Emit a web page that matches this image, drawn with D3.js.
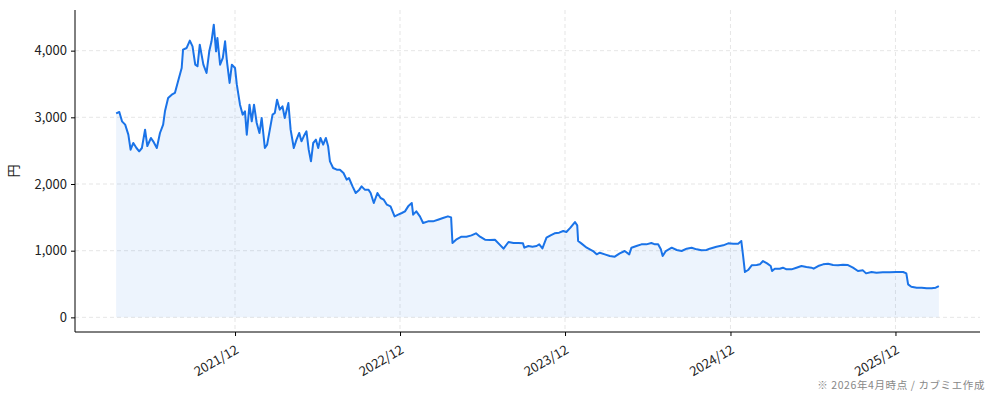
<!DOCTYPE html>
<html>
<head>
<meta charset="utf-8">
<script src="https://d3js.org/d3.v7.min.js"></script>
<style>
  body { margin: 0; background: #fff; }
  svg text { font-family: "Noto Sans CJK JP", "Noto Sans", sans-serif; }
</style>
</head>
<body>
<div id="chart"></div>
<script>
// stock price (円)
const dates = [
  "2021-03-13","2021-03-20","2021-03-26","2021-04-02","2021-04-09","2021-04-14","2021-04-20","2021-04-27",
  "2021-05-03","2021-05-09","2021-05-16","2021-05-21","2021-05-29","2021-06-03","2021-06-11","2021-06-18",
  "2021-06-25","2021-06-29","2021-07-06","2021-07-14","2021-07-21","2021-07-28","2021-08-05","2021-08-08",
  "2021-08-16","2021-08-23","2021-08-29","2021-09-04","2021-09-09","2021-09-14","2021-09-22","2021-09-29",
  "2021-10-05","2021-10-10","2021-10-15","2021-10-20","2021-10-23","2021-10-29","2021-11-04","2021-11-09",
  "2021-11-13","2021-11-19","2021-11-24","2021-12-01","2021-12-05","2021-12-12","2021-12-18","2021-12-23",
  "2021-12-27","2022-01-02","2022-01-07","2022-01-12","2022-01-18","2022-01-24","2022-01-29","2022-02-05",
  "2022-02-10","2022-02-16","2022-02-22","2022-02-27","2022-03-04","2022-03-10","2022-03-16","2022-03-21",
  "2022-03-29","2022-04-03","2022-04-10","2022-04-16","2022-04-22","2022-04-27","2022-05-02","2022-05-08",
  "2022-05-13","2022-05-18","2022-05-23","2022-05-29","2022-06-03","2022-06-08","2022-06-14","2022-06-20",
  "2022-06-25","2022-06-29","2022-07-06","2022-07-14","2022-07-21","2022-07-29","2022-08-05","2022-08-10",
  "2022-08-18","2022-08-25","2022-09-02","2022-09-07","2022-09-14","2022-09-22","2022-09-27","2022-10-04",
  "2022-10-12","2022-10-19","2022-10-26","2022-11-02","2022-11-10","2022-11-19","2022-11-27","2022-12-05",
  "2022-12-12","2022-12-19","2022-12-27","2022-12-30","2023-01-06","2023-01-14","2023-01-21","2023-02-01",
  "2023-02-12","2023-02-23","2023-03-06","2023-03-17","2023-03-24","2023-03-27","2023-04-04","2023-04-16",
  "2023-04-27","2023-05-08","2023-05-18","2023-05-27","2023-06-07","2023-06-18","2023-06-29","2023-07-09",
  "2023-07-18","2023-07-29","2023-08-09","2023-08-20","2023-08-30","2023-09-02","2023-09-11","2023-09-20",
  "2023-09-29","2023-10-05","2023-10-12","2023-10-21","2023-10-30","2023-11-08","2023-11-18","2023-11-27",
  "2023-12-04","2023-12-13","2023-12-23","2023-12-28","2023-12-30","2024-01-06","2024-01-18","2024-02-01",
  "2024-02-09","2024-02-16","2024-02-27","2024-03-09","2024-03-20","2024-03-31","2024-04-11","2024-04-21",
  "2024-04-26","2024-05-07","2024-05-18","2024-05-29","2024-06-09","2024-06-17","2024-06-24","2024-06-30",
  "2024-07-04","2024-07-11","2024-07-24","2024-08-04","2024-08-15","2024-08-26","2024-09-06","2024-09-17",
  "2024-09-28","2024-10-09","2024-10-16","2024-10-31","2024-11-15","2024-11-26","2024-12-07","2024-12-18",
  "2024-12-25","2024-12-29","2025-01-02","2025-01-09","2025-01-17","2025-01-28","2025-02-04","2025-02-11",
  "2025-02-20","2025-02-28","2025-03-03","2025-03-09","2025-03-20","2025-03-27","2025-04-04","2025-04-15",
  "2025-04-26","2025-05-07","2025-05-18","2025-05-29","2025-06-03","2025-06-13","2025-06-24","2025-07-05",
  "2025-07-16","2025-07-27","2025-08-07","2025-08-18","2025-08-29","2025-09-09","2025-09-20","2025-09-27",
  "2025-10-09","2025-10-20","2025-11-03","2025-11-18","2025-12-03","2025-12-18","2025-12-25","2025-12-29",
  "2026-01-05","2026-01-17","2026-01-28","2026-02-08","2026-02-19","2026-02-28","2026-03-07"
];
const prices = [
  3060,3080,2940,2890,2740,2515,2615,2540,
  2490,2540,2815,2570,2690,2640,2540,2765,
  2890,3090,3290,3340,3365,3540,3740,4015,
  4040,4150,4065,3790,3765,4090,3790,3665,
  3990,4140,4390,3990,4190,3790,3890,4140,
  3845,3515,3790,3740,3490,3190,3040,3090,
  2740,3190,2940,3190,2915,2765,2990,2540,
  2590,2815,3040,3065,3265,3115,3165,2990,
  3215,2815,2540,2665,2765,2640,2715,2790,
  2515,2340,2615,2665,2540,2690,2590,2690,
  2565,2340,2240,2215,2215,2165,2065,2090,
  1965,1865,1915,1965,1915,1915,1865,1715,
  1865,1790,1765,1690,1665,1515,1540,1565,
  1590,1665,1715,1540,1590,1515,1415,1440,
  1440,1465,1490,1515,1500,1115,1165,1210,
  1210,1230,1260,1210,1165,1160,1165,1095,
  1030,1130,1115,1115,1110,1045,1070,1060,
  1070,1095,1035,1195,1230,1260,1270,1295,
  1280,1345,1430,1380,1145,1110,1045,995,
  945,970,945,920,910,960,995,945,
  1045,1070,1095,1095,1115,1095,1095,1020,
  920,995,1045,1010,995,1030,1045,1020,
  1005,1010,1030,1060,1080,1110,1105,1105,
  1145,920,680,710,780,785,795,845,
  810,770,695,730,730,745,720,720,
  745,770,755,745,730,770,795,805,
  785,780,790,785,745,695,705,660,
  680,670,675,675,680,680,660,495,
  460,445,445,435,435,445,470
];
const yTicks = [0, 1000, 2000, 3000, 4000];
const xTickDates = ["2021-12-01","2022-12-01","2023-12-01","2024-12-01","2025-12-01"];
const xTickLabels = ["2021/12","2022/12","2023/12","2024/12","2025/12"];

const W = 994, H = 401;
const M = {left: 75, right: 14, top: 10, bottom: 69};
const parse = d3.timeParse("%Y-%m-%d");
const data = dates.map((d, i) => ({date: parse(d), v: prices[i]}));

const svg = d3.select("#chart").append("svg")
  .attr("width", W).attr("height", H);

// matplotlib-like 5% margins
const xExt = d3.extent(data, d => d.date);
const xPad = (xExt[1] - xExt[0]) * 0.05;
const x = d3.scaleTime()
  .domain([new Date(+xExt[0] - xPad), new Date(+xExt[1] + xPad)])
  .range([M.left, W - M.right]);
const yMax = d3.max(prices);
const y = d3.scaleLinear()
  .domain([-yMax * 0.05, yMax * 1.05])
  .range([H - M.bottom, M.top]);

const tickDates = xTickDates.map(parse);

// grid
const grid = svg.append("g").attr("stroke", "#d9d9d9").attr("stroke-width", 0.8)
  .attr("stroke-dasharray", "4,3").attr("opacity", 0.8);
grid.selectAll(".gy").data(yTicks).join("line")
  .attr("x1", M.left).attr("x2", W - M.right)
  .attr("y1", d => y(d)).attr("y2", d => y(d));
grid.selectAll(".gx").data(tickDates).join("line")
  .attr("x1", d => x(d)).attr("x2", d => x(d))
  .attr("y1", M.top).attr("y2", H - M.bottom);

// area + line
svg.append("path").datum(data)
  .attr("fill", "rgba(26,115,232,0.08)")
  .attr("d", d3.area().x(d => x(d.date)).y0(y(0)).y1(d => y(d.v)));
svg.append("path").datum(data)
  .attr("fill", "none").attr("stroke", "#1a73e8").attr("stroke-width", 2)
  .attr("stroke-linejoin", "round")
  .attr("d", d3.line().x(d => x(d.date)).y(d => y(d.v)));

// axes
const yAxis = svg.append("g").attr("transform", `translate(${M.left},0)`)
  .call(d3.axisLeft(y).tickValues(yTicks).tickFormat(d3.format(",")).tickSizeOuter(0).tickSize(4).tickPadding(4));
const xAxis = svg.append("g").attr("transform", `translate(0,${H - M.bottom})`)
  .call(d3.axisBottom(x).tickValues(tickDates).tickFormat((d, i) => xTickLabels[i]).tickSizeOuter(0).tickSize(4));
[yAxis, xAxis].forEach(g => {
  g.select(".domain").attr("stroke", "#000").attr("stroke-width", 1);
  g.selectAll(".tick line").attr("stroke", "#000");
  g.selectAll("text").attr("fill", "#222").attr("font-size", 13);
});
yAxis.select(".domain").attr("d", `M0,${H - M.bottom}V${M.top}`);
xAxis.select(".domain").attr("d", `M${M.left},0H${W - M.right}`);
xAxis.selectAll("text")
  .attr("text-anchor", "end")
  .attr("dy", null).attr("y", 0)
  .attr("transform", "translate(-2,10) rotate(-30)")
  .attr("dominant-baseline", "hanging");

svg.append("text")
  .attr("transform", `translate(18,${(M.top + H - M.bottom) / 2}) rotate(-90)`)
  .attr("text-anchor", "middle").attr("font-size", 13).attr("fill", "#222")
  .text("円");

svg.append("text")
  .attr("x", 985).attr("y", 389).attr("text-anchor", "end")
  .attr("font-size", 10.5).attr("letter-spacing", 0.6).attr("fill", "#888")
  .text("※ 2026年4月時点 / カブミエ作成");
</script>
</body>
</html>
